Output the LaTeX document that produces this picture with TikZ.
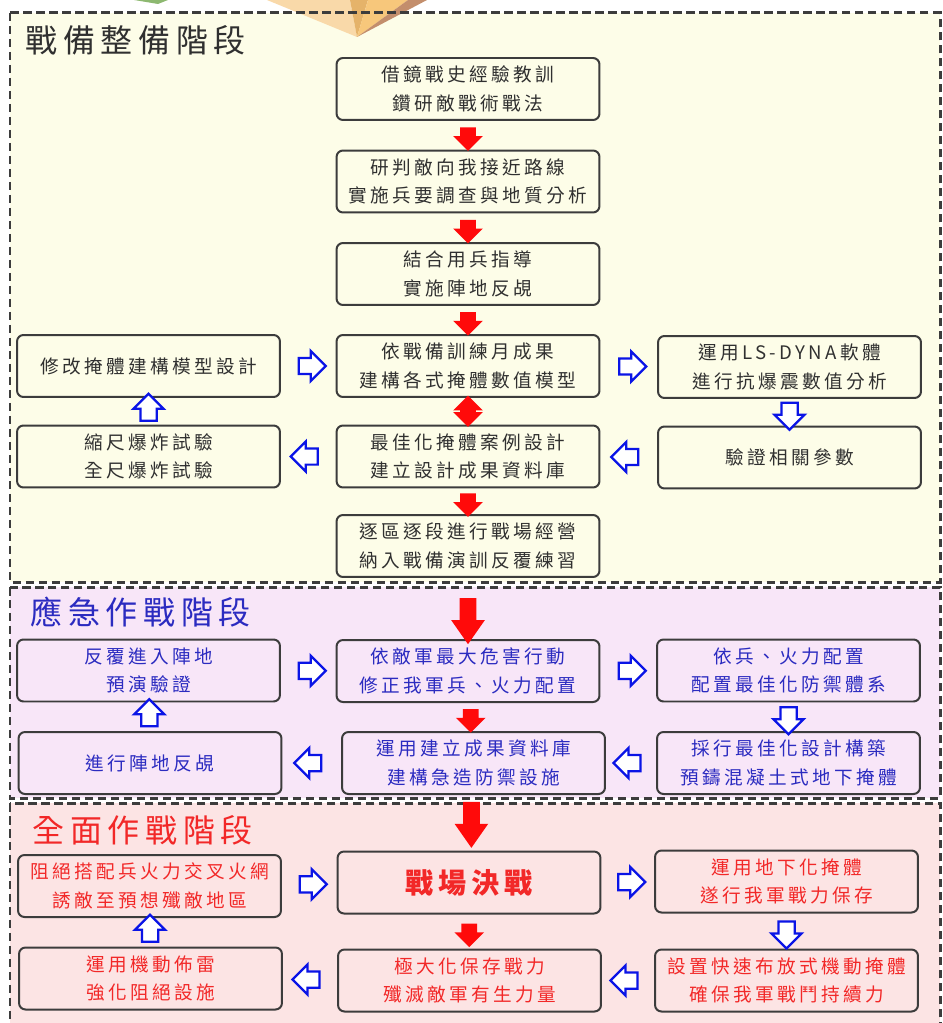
\documentclass[tikz,border=0pt]{standalone}
\usepackage{fontspec}
\newfontfamily\cjk[LetterSpace=18]{Noto Sans CJK TC}
\usetikzlibrary{shapes.arrows}
\definecolor{prepbg}{HTML}{FDFDE8}
\definecolor{urgbg}{HTML}{F8E6F8}
\definecolor{fullbg}{HTML}{FCE4E4}
\definecolor{boxline}{HTML}{3C3C3C}
\definecolor{prepink}{HTML}{303030}
\definecolor{urgink}{HTML}{2B2BC0}
\definecolor{fullink}{HTML}{F22828}
\definecolor{flowblue}{HTML}{0A14E6}
\definecolor{flowred}{HTML}{FF0A0A}
\definecolor{facetA}{HTML}{F9D9A9}
\definecolor{facetB}{HTML}{E5B36A}
\definecolor{facetC}{HTML}{F7C77B}
\definecolor{facetD}{HTML}{C38E6C}
\definecolor{leaf}{HTML}{8DB870}
\begin{document}
\begin{tikzpicture}[x=0.02cm,y=-0.02cm,
  phasebox/.style={draw=boxline,line width=0.06cm,dash pattern=on 0.17cm off 0.09cm},
  phase/.style={anchor=west,inner sep=0pt,font=\cjk\fontsize{18.2}{20}\selectfont},
  box/.style={draw=boxline,line width=0.04cm,rounded corners=0.13cm,align=center,
    minimum width=5.26cm,minimum height=1.24cm,inner sep=0pt,
    font=\cjk\fontsize{10.6}{16.3}\selectfont},
  prep/.style={box,text=prepink},
  urg/.style={box,text=urgink},
  full/.style={box,text=fullink},
  barrow/.style={single arrow,draw=flowblue,fill=white,line width=0.045cm,inner sep=0.14cm,
    minimum height=0.54cm,single arrow head extend=0.14cm},
  toright/.style={barrow,shape border rotate=0},
  toleft/.style={barrow,shape border rotate=180},
  toup/.style={barrow,shape border rotate=90},
  todown/.style={barrow,shape border rotate=270},
  rdown/.style={single arrow,fill=flowred,inner sep=0.15cm,shape border rotate=270,
    minimum height=0.46cm,single arrow head extend=0.14cm},
  rbig/.style={rdown,inner sep=0.16cm,minimum height=0.92cm,
    single arrow head extend=0.17cm,single arrow tip angle=70},
  rboth/.style={double arrow,fill=flowred,inner sep=0.15cm,shape border rotate=90,
    minimum height=0.52cm,double arrow head extend=0.14cm}]
\fill[white] (0,0) rectangle (942,1023);
\useasboundingbox (0,0) rectangle (942,1023);

% phase frames
\fill[prepbg] (10,13) rectangle (940,582);
\fill[urgbg] (10,587) rectangle (940,798);
\fill[fullbg] (10,803) rectangle (940,1030);

% ornament peeking in at the top
\fill[leaf] (134,0) -- (168,0) -- (158,4) -- cycle;
\fill[facetA] (267,0) -- (350,0) -- (357,37) -- cycle;
\fill[facetB] (350,0) -- (368,0) -- (357,37) -- cycle;
\fill[facetC] (368,0) -- (408,0) -- (357,37) -- cycle;
\fill[facetD] (408,0) -- (427,0) -- (357,37) -- cycle;

\draw[phasebox] (10,13) rectangle (940,582);
\draw[phasebox] (10,587) rectangle (940,798);
\draw[phasebox] (10,803) rectangle (940,1030);

\node[phase,text=prepink] (t1) at (25,40) {戰備整備階段};
\node[phase,text=urgink] (t2) at (30,612) {應急作戰階段};
\node[phase,text=fullink] (t3) at (32,830) {全面作戰階段};

% preparation phase
\node[prep] (B1) at (468,89) {借鏡戰史經驗教訓\\鑽研敵戰術戰法};
\node[prep] (B2) at (468,181.5) {研判敵向我接近路線\\實施兵要調查與地質分析};
\node[prep] (B3) at (468,274) {結合用兵指導\\實施陣地反覘};
\node[prep] (B4) at (468,366) {依戰備訓練月成果\\建構各式掩體數值模型};
\node[prep] (B5) at (468,456.5) {最佳化掩體案例設計\\建立設計成果資料庫};
\node[prep] (B6) at (468,546) {逐區逐段進行戰場經營\\納入戰備演訓反覆練習};
\node[prep] (L1) at (148.5,366) {修改掩體建構模型設計};
\node[prep] (L2) at (148.5,456.5) {縮尺爆炸試驗\\全尺爆炸試驗};
\node[prep] (R1) at (789.5,367) {運用LS-DYNA軟體\\進行抗爆震數值分析};
\node[prep] (R2) at (789.5,457.5) {驗證相關參數};

% emergency phase
\node[urg] (B7) at (468,671) {依敵軍最大危害行動\\修正我軍兵、火力配置};
\node[urg] (B8) at (473.5,763) {運用建立成果資料庫\\建構急造防禦設施};
\node[urg] (L3) at (148.5,670.5) {反覆進入陣地\\預演驗證};
\node[urg] (L4) at (150,763) {進行陣地反覘};
\node[urg] (R3) at (788.5,670.5) {依兵、火力配置\\配置最佳化防禦體系};
\node[urg] (R4) at (788.5,763) {採行最佳化設計構築\\預鑄混凝土式地下掩體};

% full-scale phase
\node[full,font=\cjk\bfseries\fontsize{16}{18}\selectfont] (B9) at (469,882.5) {戰場決戰};
\node[full] (B10) at (469.5,980.5) {極大化保存戰力\\殲滅敵軍有生力量};
\node[full] (L5) at (149.5,886) {阻絕搭配兵火力交叉火網\\誘敵至預想殲敵地區};
\node[full] (L6) at (150.5,978.5) {運用機動佈雷\\強化阻絕設施};
\node[full] (R5) at (786.5,881.5) {運用地下化掩體\\遂行我軍戰力保存};
\node[full] (R6) at (786.5,980.5) {設置快速布放式機動掩體\\確保我軍戰鬥持續力};

% main line
\path (B1) -- node[rdown] (a1) {} (B2);
\path (B2) -- node[rdown] (a2) {} (B3);
\path (B3) -- node[rdown] (a3) {} (B4);
\path (B4) -- node[rboth] (a4) {} (B5);
\path (B5) -- node[rdown] (a5) {} (B6);
\path (B6) -- node[rbig,pos=0.61] (a6) {} (B7);
\path (B7) -- node[rdown] (a7) {} (B8);
\path (B8) -- node[rbig,pos=0.43] (a8) {} (B9);
\path (B9) -- node[rdown] (a9) {} (B10);

% side loops
\path (L1) -- node[toright] (c1) {} (B4);
\path (B4) -- node[toright] (c2) {} (R1);
\path (R1) -- node[todown] (c3) {} (R2);
\path (R2) -- node[toleft] (c4) {} (B5);
\path (B5) -- node[toleft] (c5) {} (L2);
\path (L2) -- node[toup] (c6) {} (L1);

\path (L3) -- node[toright] (d1) {} (B7);
\path (B7) -- node[toright] (d2) {} (R3);
\path (R3) -- node[todown] (d3) {} (R4);
\path (R4) -- node[toleft] (d4) {} (B8);
\path (B8) -- node[toleft] (d5) {} (L4);
\path (L4) -- node[toup] (d6) {} (L3);

\path (L5) -- node[toright] (e1) {} (B9);
\path (B9) -- node[toright] (e2) {} (R5);
\path (R5) -- node[todown] (e3) {} (R6);
\path (R6) -- node[toleft] (e4) {} (B10);
\path (B10) -- node[toleft] (e5) {} (L6);
\path (L6) -- node[toup] (e6) {} (L5);
\end{tikzpicture}
\end{document}
